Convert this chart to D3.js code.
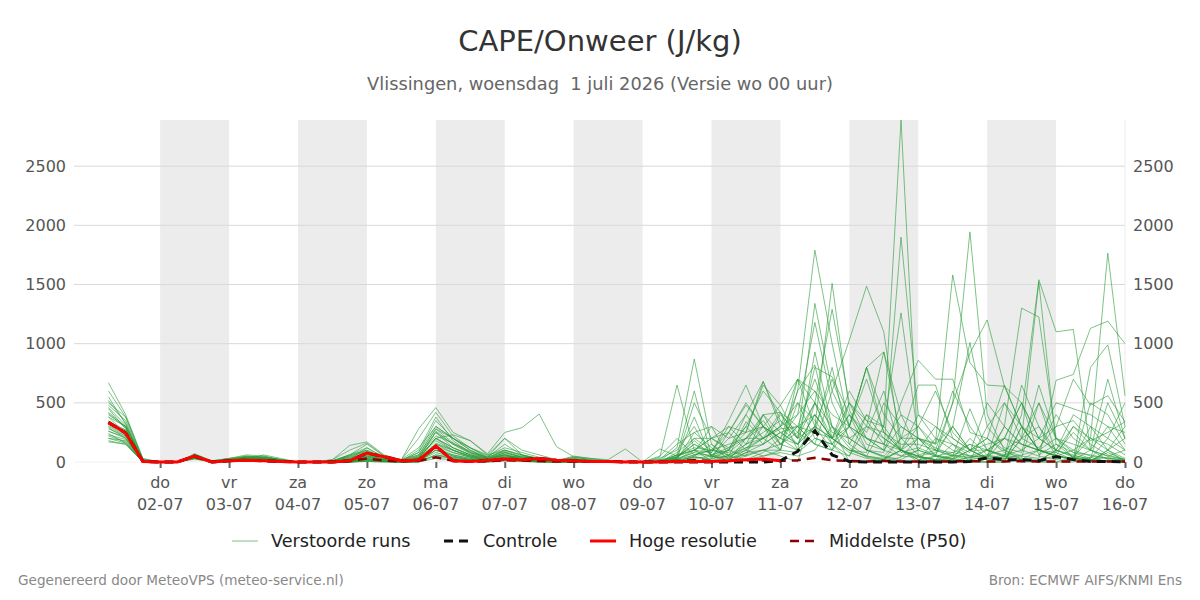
<!DOCTYPE html>
<html><head><meta charset="utf-8">
<script src="https://cdn.jsdelivr.net/npm/d3@7"></script>
<style>body{margin:0;background:#fff;} svg{display:block;font-family:"DejaVu Sans",sans-serif;}</style>
</head><body><svg id="c" width="1200" height="600"></svg>
<script>
// ---- data ----
const startUTC = Date.UTC(2026, 6, 1, 6); // first step 01-07 06:00
const stepHours = 6;
const dayNames = ["do","vr","za","zo","ma","di","wo","do","vr","za","zo","ma","di","wo","do"];
const dayDates = ["02-07","03-07","04-07","05-07","06-07","07-07","08-07","09-07","10-07","11-07","12-07","13-07","14-07","15-07","16-07"];
const yTicks = [0, 500, 1000, 1500, 2000, 2500];

const members = [
 [420,300,10, 0,0,50,0, 20,30,20,5, 0,0,10,40, 60,20,5,30, 250,120,60,20, 80,40,20,10, 20,10,5,0, 0,40,650,100, 10,60,120,200, 300,150,400,200, 80,30,10,40, 200,60,300,1010, 300,120,80,650, 200,30,10,80, 20],
 [320,260,5, 0,0,60,5, 30,40,30,10, 0,0,5,60, 100,30,10,80, 350,200,100,30, 60,20,10,5, 10,5,0,0, 0,10,120,870, 150,20,80,150, 250,300,700,300, 120,40,20,200, 60,100,500,1945, 400,100,20,10, 100,40,20,5, 10],
 [500,380,20, 0,0,40,0, 10,20,40,10, 0,0,0,20, 120,40,10,100, 380,180,80,40, 150,60,30,10, 40,20,10,0, 0,0,60,600, 50,10,200,350, 150,250,500,150, 300,800,250,100, 20,10,50,150, 30,200,500,60, 150,40,200,1765, 560],
 [260,200,0, 0,0,45,0, 10,15,10,0, 0,0,0,0, 20,10,0,10, 150,80,40,10, 40,20,5,0, 5,0,0,0, 0,0,30,500, 200,120,300,150, 400,250,150,600, 1030,1485,1100,100, 40,20,150,80, 500,300,150,100, 60,20,10,100, 30],
 [380,300,10, 0,0,50,10, 20,40,50,20, 0,0,20,140, 170,60,20,280, 460,250,180,60, 200,100,60,20, 30,10,0,0, 0,0,40,380, 30,250,480,300, 100,600,1790,1000, 300,100,40,10, 0,50,20,100, 30,300,1300,1225, 200,80,30,500, 200],
 [670,400,30, 0,0,55,0, 10,20,60,30, 0,0,0,0, 30,10,5,20, 200,230,180,70, 250,290,405,130, 45,30,20,110, 0,0,20,250, 120,30,150,400, 420,300,150,100, 50,400,300,2890, 50,10,30,200, 60,30,20,100, 50,30,20,40, 10],
 [300,220,0, 0,0,40,0, 20,30,20,10, 0,0,0,10, 30,10,5,40, 200,100,40,20, 60,20,10,5, 20,10,5,0, 0,110,50,100, 200,100,250,650, 480,200,300,1510, 440,150,100,300, 200,120,60,40, 20,10,300,100, 50,20,800,990, 300],
 [450,280,10, 0,0,60,5, 20,50,40,20, 0,0,10,30, 80,40,20,60, 280,200,120,40, 100,60,20,10, 40,20,10,0, 0,0,80,200, 200,300,250,680, 350,200,1340,600, 300,200,100,1900, 400,200,100,50, 40,500,300,200, 100,60,20,10, 0],
 [200,180,0, 0,0,30,0, 5,10,5,0, 0,0,0,0, 10,5,0,5, 100,50,20,5, 30,10,5,0, 0,0,0,0, 0,0,0,50, 10,0,80,100, 50,0,500,1290, 500,300,200,100, 20,50,80,150, 100,50,400,1540, 1100,1120,100,20, 0],
 [350,250,5, 0,0,50,0, 10,20,30,10, 0,0,0,20, 50,20,10,30, 200,120,60,20, 40,20,10,0, 10,5,0,0, 0,20,40,150, 80,350,650,300, 200,150,300,200, 100,50,300,1260, 200,150,300,100, 30,20,200,1520, 150,80,60,30, 10],
 [240,160,0, 0,0,35,0, 10,20,10,5, 0,0,5,10, 40,20,5,0, 120,60,30,10, 30,20,10,5, 10,5,0,0, 0,0,30,80, 300,50,340,200, 100,700,500,200, 400,100,80,500, 860,700,700,250, 200,100,50,30, 690,740,1130,1190, 1000],
 [550,320,15, 0,0,60,0, 20,40,30,15, 0,0,10,60, 150,50,20,120, 300,200,120,50, 120,80,40,20, 20,10,5,0, 0,30,100,300, 50,200,400,680, 300,400,600,250, 200,300,930,200, 200,160,1580,840, 650,640,500,200, 100,300,150,60, 20],
 [280,220,5, 0,0,45,0, 15,25,40,20, 0,0,0,10, 20,10,5,40, 180,100,50,20, 50,30,10,5, 20,10,5,0, 0,0,20,100, 40,100,300,600, 420,200,800,720, 400,200,100,50, 100,50,500,920, 1200,640,300,100, 50,20,100,300, 100],
 [180,150,0, 0,0,30,0, 5,10,5,0, 0,0,0,0, 5,0,0,0, 50,30,10,0, 20,10,0,0, 0,0,0,0, 0,0,10,40, 20,100,50,400, 150,100,930,300, 200,100,50,20, 100,50,20,10, 0,0,300,100, 80,250,100,50, 20],
 [480,350,20, 0,0,70,10, 30,60,50,20, 0,0,20,100, 160,50,20,200, 420,220,120,60, 100,50,20,10, 30,10,5,0, 0,20,150,250, 300,200,250,300, 480,700,300,100, 500,350,150,50, 40,20,60,30, 100,40,650,300, 50,20,10,5, 0],
 [230,190,0, 0,0,40,0, 10,20,15,5, 0,0,0,0, 20,10,0,10, 80,40,20,10, 20,10,5,0, 5,0,0,0, 0,10,60,100, 80,300,150,200, 420,100,250,800, 150,50,20,100, 300,600,250,100, 30,10,200,500, 80,20,300,100, 200],
 [400,300,10, 0,0,55,5, 20,40,30,10, 0,0,10,50, 90,30,10,50, 220,160,80,30, 80,40,20,5, 20,10,0,0, 0,50,200,60, 100,250,500,300, 200,600,820,200, 100,80,500,300, 200,50,30,100, 150,200,100,50, 20,10,500,400, 150],
 [330,270,5, 0,0,50,0, 10,30,20,5, 0,0,5,30, 70,20,10,20, 150,100,50,20, 70,30,10,5, 10,5,0,0, 0,0,0,30, 50,20,100,50, 100,500,200,150, 50,300,250,100, 400,300,200,100, 200,650,300,100, 400,200,100,50, 100],
 [600,380,25, 0,0,65,10, 30,50,40,20, 0,0,10,60, 120,40,15,80, 300,200,100,40, 200,60,20,10, 50,30,10,0, 0,0,0,50, 150,50,100,200, 300,700,600,400, 300,200,150,100, 50,20,10,0, 30,60,100,200, 500,450,400,300, 250],
 [260,210,0, 0,0,40,0, 10,10,10,5, 0,0,0,5, 30,10,0,10, 100,60,30,10, 40,50,30,10, 10,5,0,0, 0,0,10,60, 100,150,200,300, 200,400,1180,500, 200,100,50,200, 300,150,600,300, 100,50,20,10, 100,50,30,200, 500],
 [380,240,10, 0,0,50,0, 15,25,20,10, 0,0,5,20, 60,30,10,40, 260,150,80,30, 60,30,10,5, 20,10,5,0, 0,0,40,150, 60,120,200,400, 250,150,300,700, 300,800,400,200, 650,650,200,100, 100,200,150,100, 50,30,20,10, 0],
 [220,170,0, 0,0,35,0, 5,10,5,0, 0,0,0,0, 10,5,0,5, 60,30,10,0, 10,5,0,0, 0,0,0,0, 0,0,20,80, 50,30,60,100, 150,300,250,200, 500,200,150,400, 300,100,50,20, 50,30,60,100, 50,100,200,150, 60],
 [310,230,5, 0,0,45,0, 10,20,25,5, 0,0,0,15, 40,15,5,20, 130,80,40,15, 50,20,10,0, 10,5,0,0, 0,0,30,200, 100,60,150,250, 350,200,500,300, 150,400,200,100, 50,80,300,100, 200,80,40,500, 200,100,50,30, 20],
 [460,310,15, 0,0,60,5, 20,45,35,15, 0,0,10,50, 100,40,15,60, 280,160,90,40, 90,40,20,5, 20,10,5,0, 0,0,50,100, 200,250,100,300, 150,300,400,200, 600,350,300,100, 200,100,80,50, 100,60,30,20, 50,300,200,100, 300],
 [200,160,0, 0,0,30,0, 5,15,10,0, 0,0,0,0, 10,5,0,0, 60,40,20,5, 20,10,5,0, 0,0,0,0, 0,0,0,20, 0,10,50,100, 100,80,200,150, 0,0,20,0, 0,5,0,0, 0,50,0,0, 0,0,40,0, 0],
 [520,330,15, 0,0,55,0, 20,35,30,10, 0,0,10,40, 90,30,10,50, 250,150,70,30, 100,60,30,10, 20,10,5,0, 0,0,60,120, 100,80,200,200, 280,300,150,100, 300,800,930,400, 100,300,150,50, 50,300,150,100, 200,150,100,700, 200],
 [290,200,0, 0,0,40,0, 10,15,10,0, 0,0,0,5, 20,5,0,10, 100,50,20,5, 30,10,5,0, 5,0,0,0, 0,0,10,40, 30,50,20,80, 200,100,300,200, 100,50,30,100, 50,20,10,40, 60,100,200,300, 100,400,300,200, 100],
 [170,150,0, 0,0,25,0, 0,10,5,0, 0,0,0,0, 5,0,0,0, 30,20,5,0, 10,5,0,0, 0,0,0,0, 0,0,0,10, 10,0,20,50, 80,50,100,300, 0,0,20,100, 0,200,150,0, 0,0,20,0, 0,40,0,100, 0],
 [410,290,10, 0,0,55,0, 15,30,25,10, 0,0,5,25, 50,20,10,30, 200,120,60,30, 80,40,10,5, 15,5,0,0, 0,0,20,60, 60,100,400,200, 300,500,350,150, 400,250,600,80, 120,60,30,10, 300,500,200,120, 300,350,180,250, 340],
 [340,270,10, 0,0,50,0, 10,25,20,10, 0,0,0,15, 50,20,5,25, 160,100,50,20, 60,30,10,5, 10,5,0,0, 0,0,40,180, 60,40,120,150, 250,150,400,200, 300,700,250,150, 150,100,50,450, 100,200,500,200, 300,700,480,560, 340]
];
const control = [335,245,5, 0,0,50,0, 10,15,10,5, 0,0,0,10, 75,45,10,15, 135,10,5,15, 25,20,30,15, 10,5,5,0, 0,0,0,0, 0,0,0,0, 10,90,265,60, 5,0,0,0, 0,0,0,5, 35,20,20,10, 45,20,5,5, 0];
const hres = [335,245,5, 0,0,50,0, 10,15,10,5, 0,0,0,10, 75,45,10,15, 135,10,5,15, 25,20,30,15, 10,5,5,0, 0,0,5,5, 5,10,20,25, 10];
const p50 = [330,245,5, 0,0,45,0, 10,15,10,5, 0,0,0,10, 30,12,5,10, 40,10,5,5, 15,12,8,5, 5,3,2,3, 0,2,8,15, 8,10,15,12, 10,15,35,15, 8,5,8,5, 5,5,5,8, 5,5,8,5, 5,5,5,5, 5];

// ---- chart ----
const svg = d3.select("#c");
const plot = {left: 74, right: 1125, top: 120, bottom: 462};
const t = i => new Date(startUTC + i * stepHours * 3600e3);
const dayDate = k => new Date(Date.UTC(2026, 6, 2 + k));

const x = d3.scaleUtc()
  .domain([new Date(Date.UTC(2026, 5, 30, 18)), new Date(Date.UTC(2026, 6, 16))])
  .range([plot.left, plot.right]);
const yMax = d3.max([...members.flat(), ...control, ...hres, ...p50]);
const y = d3.scaleLinear().domain([0, yMax]).range([plot.bottom, plot.top]);

// alternating day bands
const bandDays = d3.range(0, 14, 2);
svg.append("g").selectAll("rect").data(bandDays).join("rect")
  .attr("x", k => x(dayDate(k)))
  .attr("width", k => x(dayDate(k + 1)) - x(dayDate(k)))
  .attr("y", plot.top).attr("height", plot.bottom - plot.top)
  .attr("fill", "#ececec");

// gridlines
svg.append("g").selectAll("line").data(yTicks).join("line")
  .attr("x1", plot.left).attr("x2", plot.right)
  .attr("y1", d => y(d)).attr("y2", d => y(d))
  .attr("stroke", d => d === 0 ? "#f0f0f0" : "#d9d9d9").attr("stroke-width", 1);
svg.append("line").attr("x1", plot.right).attr("x2", plot.right)
  .attr("y1", plot.top).attr("y2", plot.bottom).attr("stroke", "#ececec");

// y labels left & right
const fmt = d3.format("d");
const yl = d3.axisLeft(y).tickValues(yTicks).tickFormat(fmt).tickSize(0).tickPadding(8);
const gL = svg.append("g").attr("transform", `translate(${plot.left},0)`).call(yl);
const yr = d3.axisRight(y).tickValues(yTicks).tickFormat(fmt).tickSize(0).tickPadding(8);
const gR = svg.append("g").attr("transform", `translate(${plot.right},0)`).call(yr);
[gL, gR].forEach(g => {
  g.select(".domain").remove();
  g.selectAll("text").attr("font-family", "DejaVu Sans").attr("font-size", 16).attr("fill", "#555");
});

// x axis
const xa = d3.axisBottom(x).tickValues(dayDates.map((_, k) => dayDate(k))).tickSize(6).tickFormat("");
const gX = svg.append("g").attr("transform", `translate(0,${plot.bottom})`).call(xa);
gX.select(".domain").remove();
gX.selectAll(".tick line").attr("stroke", "#666").attr("stroke-width", 2);
const lab = svg.append("g").attr("font-size", 16).attr("fill", "#555").attr("text-anchor", "middle");
lab.selectAll("text.n").data(dayNames).join("text").attr("class", "n")
  .attr("x", (d, k) => x(dayDate(k))).attr("y", 488).text(d => d);
lab.selectAll("text.d").data(dayDates).join("text").attr("class", "d")
  .attr("x", (d, k) => x(dayDate(k))).attr("y", 510).text(d => d);

// lines
const line = d3.line().x((d, i) => x(t(i))).y(d => y(d));
svg.append("g").selectAll("path").data(members).join("path")
  .attr("d", line).attr("fill", "none")
  .attr("stroke", "rgb(40,155,55)").attr("stroke-opacity", 0.6).attr("stroke-width", 1);
svg.append("path").attr("d", line(p50)).attr("fill", "none")
  .attr("stroke", "#8b0000").attr("stroke-width", 2.5).attr("stroke-dasharray", "9,6");
svg.append("path").attr("d", line(control)).attr("fill", "none")
  .attr("stroke", "#111").attr("stroke-width", 3).attr("stroke-dasharray", "9,6");
svg.append("path").attr("d", line(hres)).attr("fill", "none")
  .attr("stroke", "#ff0000").attr("stroke-width", 3);

// title
svg.append("text").attr("x", 600).attr("y", 51).attr("text-anchor", "middle")
  .attr("font-size", 29).attr("fill", "#333").text("CAPE/Onweer (J/kg)");
svg.append("text").attr("x", 600).attr("y", 90).attr("text-anchor", "middle")
  .attr("font-size", 17.8).attr("fill", "#666").text("Vlissingen, woensdag\u00a0 1 juli 2026 (Versie wo 00 uur)");

// legend
const legendItems = [
  {label: "Verstoorde runs", x: 232, stroke: "rgba(40,155,55,0.6)", w: 1, dash: null},
  {label: "Controle", x: 444, stroke: "#111", w: 3, dash: "9,6"},
  {label: "Hoge resolutie", x: 590, stroke: "#ff0000", w: 3, dash: null},
  {label: "Middelste (P50)", x: 790, stroke: "#8b0000", w: 2.5, dash: "9,6"}
];
const lg = svg.append("g");
legendItems.forEach(it => {
  lg.append("line").attr("x1", it.x).attr("x2", it.x + 26).attr("y1", 541).attr("y2", 541)
    .attr("stroke", it.stroke).attr("stroke-width", it.w).attr("stroke-dasharray", it.dash);
  lg.append("text").attr("x", it.x + 39).attr("y", 547).attr("font-size", 17.6).attr("fill", "#222").text(it.label);
});

// footer
svg.append("text").attr("x", 18).attr("y", 585).attr("font-size", 13.6).attr("fill", "#888")
  .text("Gegenereerd door MeteoVPS (meteo-service.nl)");
svg.append("text").attr("x", 1182).attr("y", 585).attr("text-anchor", "end").attr("font-size", 13.6).attr("fill", "#888")
  .text("Bron: ECMWF AIFS/KNMI Ens");
</script></body></html>
